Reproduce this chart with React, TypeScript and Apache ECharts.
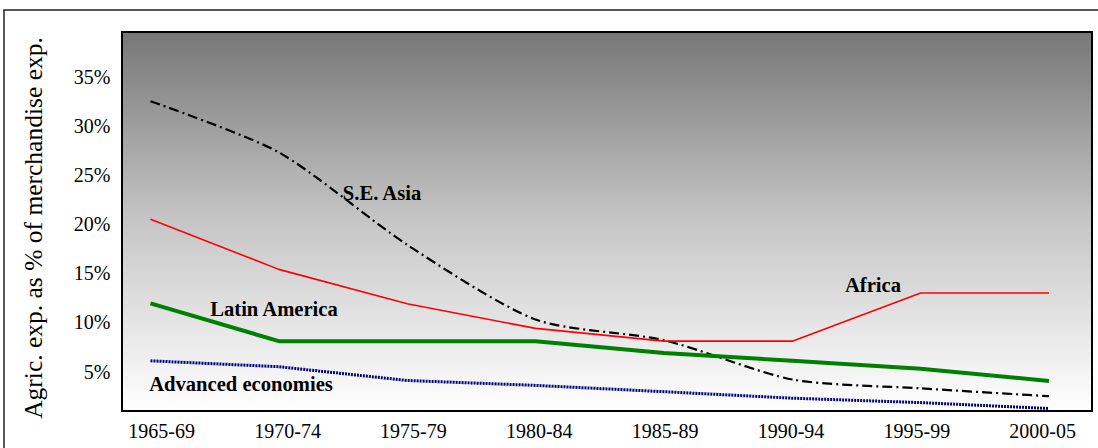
import React, { useEffect, useRef } from "react";
import * as echarts from "echarts";

const categories = ["1965-69", "1970-74", "1975-79", "1980-84", "1985-89", "1990-94", "1995-99", "2000-05"];
const seAsia = [32.5, 27.3, 17.9, 10.3, 8.2, 4.2, 3.3, 2.5];
const africa = [20.5, 15.4, 11.9, 9.4, 8.1, 8.1, 13.0, 13.0];
const latinAmerica = [11.95, 8.1, 8.1, 8.1, 6.9, 6.1, 5.3, 4.05];
const advanced = [6.1, 5.5, 4.1, 3.6, 2.96, 2.3, 1.85, 1.25];
const yTicks = [5, 10, 15, 20, 25, 30, 35];

const FONT = "'Liberation Serif', 'Times New Roman', serif";

export default function App() {
  const ref = useRef<HTMLDivElement>(null);
  useEffect(() => {
    if (!ref.current) return;
    const chart = echarts.init(ref.current, null, { renderer: "svg" });
    const labelStyle = (text: string, x: number, y: number) => ({
      type: "text",
      x,
      y,
      z: 10,
      style: {
        text,
        fill: "#000",
        font: `bold 20.6px ${FONT}`,
        textAlign: "center",
        textVerticalAlign: "middle",
      },
    });
    chart.setOption({
      animation: false,
      backgroundColor: "#fff",
      grid: [
        { left: 150.5, right: 49, top: 27.5, bottom: 27.2 },
        { left: 161.7, right: 55.3, top: 27.5, bottom: 27.2 },
      ],
      xAxis: [
        {
          type: "category",
          gridIndex: 0,
          data: categories,
          boundaryGap: false,
          axisLine: { show: false },
          axisTick: { show: false },
          axisLabel: { show: false },
          splitLine: { show: false },
        },
        {
          type: "category",
          gridIndex: 1,
          data: categories,
          boundaryGap: false,
          axisLine: { show: false },
          axisTick: { show: false },
          axisLabel: { show: true, fontSize: 20, fontFamily: FONT, color: "#000", margin: 0, interval: 0 },
          splitLine: { show: false },
        },
      ],
      yAxis: [
        {
          type: "value",
          gridIndex: 0,
          min: 0,
          max: 40,
          interval: 5,
          axisLine: { show: false },
          axisTick: { show: false },
          splitLine: { show: false },
          axisLabel: {
            fontSize: 20,
            fontFamily: FONT,
            color: "#000",
            margin: 40,
            formatter: (v: number) => (yTicks.includes(v) ? `${v}%` : ""),
          },
        },
        { type: "value", gridIndex: 1, min: 0, max: 1, show: false },
      ],
      graphic: [
        {
          type: "rect",
          z: -10,
          shape: { x: 4, y: 10, width: 1100, height: 450 },
          style: { fill: "#fff", stroke: "#222", lineWidth: 1.5 },
        },
        {
          type: "rect",
          z: -5,
          shape: { x: 122, y: 32, width: 970, height: 379 },
          style: {
            fill: new echarts.graphic.LinearGradient(0, 0, 0, 1, [
              { offset: 0, color: "#777777" },
              { offset: 0.5, color: "#c6c6c6" },
              { offset: 1, color: "#ffffff" },
            ]),
            stroke: "#000",
            lineWidth: 2,
          },
        },
        {
          type: "text",
          x: 33,
          y: 228,
          rotation: Math.PI / 2,
          z: 10,
          style: {
            text: "Agric. exp. as % of merchandise exp.",
            fill: "#000",
            font: `25.5px ${FONT}`,
            textAlign: "center",
            textVerticalAlign: "middle",
          },
        },
        labelStyle("S.E. Asia", 382, 193),
        labelStyle("Latin America", 274, 309),
        labelStyle("Advanced economies", 241, 384),
        labelStyle("Africa", 873, 285),
      ],
      series: [
        {
          name: "S.E. Asia",
          type: "line",
          data: seAsia,
          smooth: 0.25,
          symbol: "none",
          lineStyle: { color: "#000", width: 2.2, type: [10, 4, 2, 4] },
        },
        {
          name: "Africa",
          type: "line",
          data: africa,
          symbol: "none",
          lineStyle: { color: "#ff0000", width: 1.6 },
        },
        {
          name: "Latin America",
          type: "line",
          data: latinAmerica,
          symbol: "none",
          lineStyle: { color: "#008000", width: 4 },
        },
        {
          name: "Advanced economies",
          type: "line",
          data: advanced,
          symbol: "none",
          lineStyle: { color: "#000080", width: 3, type: [2, 1] },
        },
      ],
    });
    return () => chart.dispose();
  }, []);
  return (
    <div
      ref={ref}
      style={{ position: "absolute", left: 0, top: 0, width: 1098, height: 448 }}
    />
  );
}
